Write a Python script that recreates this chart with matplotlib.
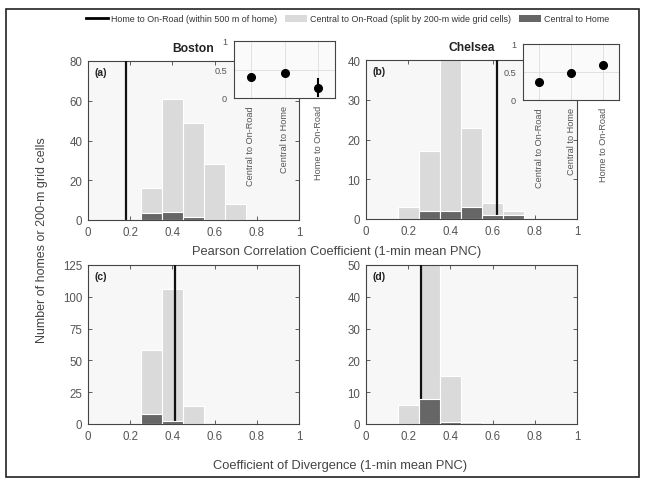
import matplotlib
matplotlib.use("Agg")
import matplotlib.pyplot as plt
import numpy as np
from matplotlib.patches import Rectangle
from matplotlib.lines import Line2D
from matplotlib.patches import Patch

plt.rcParams['font.family'] = ['Liberation Sans', 'DejaVu Sans']

# ---------------- data ----------------
bin_centers_ab = [0.2, 0.3, 0.4, 0.5, 0.6, 0.7]
boston_pcc_central_onroad = [0, 16, 61, 49, 28, 8]
boston_pcc_central_home = [0, 3.5, 4.2, 1.3, 0, 0]
boston_pcc_home_onroad = 0.18

chelsea_pcc_central_onroad = [3, 17, 40, 23, 4, 2]
chelsea_pcc_central_home = [0, 2, 2, 3, 1, 1]
chelsea_pcc_home_onroad = 0.62

bin_centers_cd = [0.2, 0.3, 0.4, 0.5]
boston_cod_central_onroad = [0, 58, 106, 14]
boston_cod_central_home = [0, 8, 2, 0]
boston_cod_home_onroad = 0.41

chelsea_cod_central_onroad = [6, 60, 15, 0.5]
chelsea_cod_central_home = [0, 8, 0.5, 0]
chelsea_cod_home_onroad = 0.26

inset_labels = ["Central to On-Road", "Central to Home", "Home to On-Road"]
boston_inset_mean = [0.37, 0.43, 0.18]
boston_inset_err = [0.0, 0.0, 0.17]
chelsea_inset_mean = [0.33, 0.49, 0.62]
chelsea_inset_err = [0.0, 0.0, 0.04]

ylims = [80, 40, 125, 50]
yticks = [[0, 20, 40, 60, 80], [0, 10, 20, 30, 40],
          [0, 25, 50, 75, 100, 125], [0, 10, 20, 30, 40, 50]]
xticks = [0, 0.2, 0.4, 0.6, 0.8, 1]
xticklabels = ["0", "0.2", "0.4", "0.6", "0.8", "1"]

LIGHT = "#dadada"
DARK = "#666666"
FACE = "#f7f7f7"
EDGE = "#444444"

W, H = 645, 485
fig = plt.figure(figsize=(W / 100, H / 100), dpi=100)

def frac(l, t, r, b):
    return [l / W, 1 - b / H, (r - l) / W, (b - t) / H]

pos = [frac(88, 62, 299, 221), frac(366, 61, 577, 220),
       frac(88, 266, 299, 425), frac(366, 266, 577, 425)]

panels = [
    (bin_centers_ab, boston_pcc_central_onroad, boston_pcc_central_home, boston_pcc_home_onroad, "(a)"),
    (bin_centers_ab, chelsea_pcc_central_onroad, chelsea_pcc_central_home, chelsea_pcc_home_onroad, "(b)"),
    (bin_centers_cd, boston_cod_central_onroad, boston_cod_central_home, boston_cod_home_onroad, "(c)"),
    (bin_centers_cd, chelsea_cod_central_onroad, chelsea_cod_central_home, chelsea_cod_home_onroad, "(d)"),
]

axes = []
for i, (centers, light, dark, vline, lab) in enumerate(panels):
    ax = fig.add_axes(pos[i])
    ax.set_facecolor(FACE)
    ax.bar(centers, light, width=0.1, color=LIGHT, edgecolor="white", linewidth=0.8, zorder=2)
    ax.axvline(vline, color="#111111", linewidth=1.6, zorder=3)
    ax.bar(centers, dark, width=0.1, color=DARK, edgecolor="white", linewidth=0.8, zorder=4)
    ax.set_xlim(0, 1)
    ax.set_ylim(0, ylims[i])
    ax.set_xticks(xticks)
    ax.set_xticklabels(xticklabels)
    ax.set_yticks(yticks[i])
    ax.tick_params(direction="in", top=True, right=True, length=3, width=0.6,
                   colors=EDGE, labelsize=8.3, labelcolor="#555555", pad=4)
    for s in ax.spines.values():
        s.set_color(EDGE)
        s.set_linewidth(0.8)
    ax.text(0.03, 0.96, lab, transform=ax.transAxes, fontsize=7.5, fontweight="bold",
            va="top", ha="left", color="#222222", zorder=6)
    axes.append(ax)

axes[0].set_title("Boston", fontsize=8.7, fontweight="bold", color="#222222", pad=7)
axes[1].set_title("Chelsea", fontsize=8.7, fontweight="bold", color="#222222", pad=7)

fig.text(337 / W, 1 - 252 / H, "Pearson Correlation Coefficient (1-min mean PNC)",
         ha="center", va="center", fontsize=9.3, color="#444444")
fig.text(340 / W, 1 - 466 / H, "Coefficient of Divergence (1-min mean PNC)",
         ha="center", va="center", fontsize=9.3, color="#444444")
fig.text(42 / W, 1 - 240 / H, "Number of homes or 200-m grid cells", rotation=90,
         ha="center", va="center", fontsize=9.0, color="#444444")

# insets
inset_pos = [frac(234, 42, 335, 99), frac(523, 45, 619, 101)]
for k, (means, errs) in enumerate([(boston_inset_mean, boston_inset_err),
                                   (chelsea_inset_mean, chelsea_inset_err)]):
    ia = fig.add_axes(inset_pos[k])
    ia.set_facecolor("#fafafa")
    xs = np.arange(1, len(means) + 1)
    ia.errorbar(xs, means, yerr=errs, fmt="o", color="black", markersize=5.5,
                elinewidth=1.5, capsize=0, zorder=3, clip_on=True)
    ia.set_xlim(0.5, 3.5)
    ia.set_ylim(0, 1)
    ia.set_yticks([0, 0.5, 1])
    ia.set_yticklabels(["0", "0.5", "1"])
    ia.set_xticks(xs)
    ia.set_xticklabels(inset_labels, rotation=90, fontsize=6.6, color="#444444")
    ia.grid(True, color="#dddddd", linewidth=0.6)
    ia.set_axisbelow(True)
    ia.tick_params(direction="in", length=0, labelsize=6.6, labelcolor="#555555", pad=5)
    for s in ia.spines.values():
        s.set_color(EDGE)
        s.set_linewidth(0.8)

# legend
handles = [Line2D([0], [0], color="black", linewidth=2),
           Patch(facecolor=LIGHT, edgecolor="none"),
           Patch(facecolor=DARK, edgecolor="none")]
labels = ["Home to On-Road (within 500 m of home)",
          "Central to On-Road (split by 200-m wide grid cells)",
          "Central to Home"]
fig.legend(handles, labels, loc="center", bbox_to_anchor=(348 / W, 1 - 20 / H), ncol=3,
           frameon=False, fontsize=6.4, handlelength=2.4, handletextpad=0.4,
           columnspacing=0.9, labelcolor="#333333")

# outer border
fig.patches.append(Rectangle((6 / W, 7 / H), (639 - 6) / W, (480 - 12) / H,
                             transform=fig.transFigure, fill=False,
                             edgecolor="#222222", linewidth=1.2))

fig.savefig("out.png", dpi=100, facecolor="white")
